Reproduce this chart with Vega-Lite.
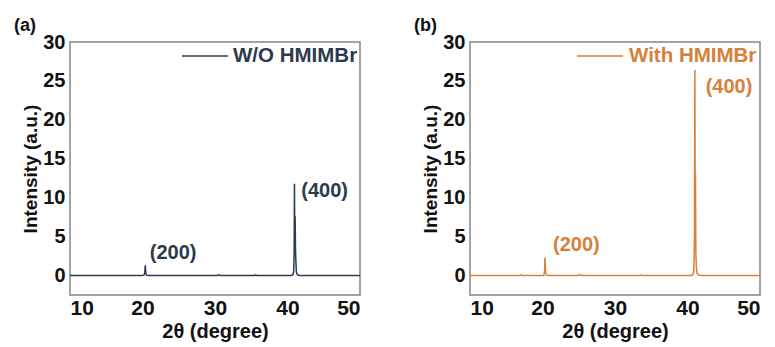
{
  "$schema": "https://vega.github.io/schema/vega-lite/v6.json",
  "padding": {"left": 13, "top": 16, "right": 5, "bottom": 5},
  "bounds": "flush",
  "spacing": 110,
  "background": "white",
  "config": {
    "font": "Liberation Sans",
    "view": {"stroke": "#858585", "strokeWidth": 1.5},
    "axis": {
      "grid": false, "domain": false, "ticks": false, "tickSize": 0,
      "labelFont": "Liberation Sans", "labelFontWeight": "bold", "labelColor": "#111111",
      "titleFont": "Liberation Sans", "titleFontWeight": "bold", "titleColor": "#111111"
    },
    "axisX": {"labelFontSize": 21, "titleFontSize": 20, "labelPadding": 2, "titlePadding": 3},
    "axisY": {"labelFontSize": 20, "titleFontSize": 19, "labelPadding": 5, "titlePadding": 2},
    "title": {"font": "Liberation Sans", "fontWeight": "bold", "fontSize": 18, "color": "#111111", "anchor": "start", "frame": "group"}
  },
  "datasets": {
    "a": [
      {"x": 10, "y": 0}, {"x": 15, "y": 0}, {"x": 19.9, "y": 0}, {"x": 20.2, "y": 0.05}, {"x": 20.3, "y": 0.3},
      {"x": 20.38, "y": 1.33}, {"x": 20.45, "y": 0.4}, {"x": 20.55, "y": 0.05}, {"x": 20.8, "y": 0}, {"x": 25, "y": 0},
      {"x": 30.3, "y": 0}, {"x": 30.5, "y": 0.08}, {"x": 30.7, "y": 0}, {"x": 35.4, "y": 0}, {"x": 35.6, "y": 0.06},
      {"x": 35.8, "y": 0}, {"x": 40.5, "y": 0}, {"x": 40.75, "y": 0.1}, {"x": 40.85, "y": 0.5}, {"x": 40.92, "y": 3},
      {"x": 40.96, "y": 11.8}, {"x": 41.0, "y": 5}, {"x": 41.05, "y": 7.6}, {"x": 41.1, "y": 3.5}, {"x": 41.15, "y": 2.0},
      {"x": 41.22, "y": 0.5}, {"x": 41.35, "y": 0.1}, {"x": 41.6, "y": 0}, {"x": 45, "y": 0}, {"x": 50, "y": 0}
    ],
    "b": [
      {"x": 10, "y": 0}, {"x": 16.8, "y": 0}, {"x": 17, "y": 0.08}, {"x": 17.2, "y": 0}, {"x": 20, "y": 0},
      {"x": 20.2, "y": 0.05}, {"x": 20.28, "y": 0.5}, {"x": 20.34, "y": 2.3}, {"x": 20.42, "y": 0.5}, {"x": 20.55, "y": 0.05},
      {"x": 20.8, "y": 0}, {"x": 24.9, "y": 0}, {"x": 25.1, "y": 0.15}, {"x": 25.3, "y": 0}, {"x": 33.3, "y": 0},
      {"x": 33.5, "y": 0.05}, {"x": 33.7, "y": 0}, {"x": 40.5, "y": 0}, {"x": 40.75, "y": 0.1}, {"x": 40.88, "y": 0.6},
      {"x": 40.96, "y": 5}, {"x": 41.02, "y": 26.4}, {"x": 41.06, "y": 8}, {"x": 41.1, "y": 13}, {"x": 41.15, "y": 3},
      {"x": 41.22, "y": 1}, {"x": 41.35, "y": 0.2}, {"x": 41.6, "y": 0.05}, {"x": 42, "y": 0}, {"x": 50, "y": 0}
    ],
    "la": [
      {"x": 21.0, "y": 2.9, "t": "(200)"},
      {"x": 41.9, "y": 10.8, "t": "(400)"}
    ],
    "lb": [
      {"x": 21.45, "y": 3.9, "t": "(200)"},
      {"x": 42.5, "y": 24.2, "t": "(400)"}
    ]
  },
  "resolve": {"scale": {"color": "independent", "x": "independent", "y": "independent"}, "legend": {"color": "independent"}},
  "hconcat": [
    {
      "width": 290, "height": 253,
      "title": {"text": "(a)", "dx": -56, "dy": 7},
      "layer": [
        {
          "data": {"name": "a"},
          "transform": [{"calculate": "'W/O HMIMBr'", "as": "series"}],
          "mark": {"type": "line", "strokeWidth": 1.5, "clip": true},
          "encoding": {
            "x": {"field": "x", "type": "quantitative", "scale": {"domain": [10, 50], "nice": false}, "axis": {"values": [10, 20, 30, 40, 50], "title": "2θ (degree)"}},
            "y": {"field": "y", "type": "quantitative", "scale": {"domain": [-2.5, 30], "nice": false, "zero": false}, "axis": {"values": [0, 5, 10, 15, 20, 25, 30], "title": "Intensity (a.u.)"}},
            "color": {"field": "series", "type": "nominal", "scale": {"domain": ["W/O HMIMBr"], "range": ["#2c3b4e"]},
              "legend": {"title": null, "orient": "none", "legendX": 111, "legendY": -10, "padding": 0, "symbolType": "stroke", "symbolSize": 2116, "symbolStrokeWidth": 1.5, "labelFontSize": 20.5, "labelFont": "Liberation Sans", "labelFontWeight": "bold", "labelColor": "#2c3b4e", "labelOffset": 4}}
          }
        },
        {
          "data": {"name": "la"},
          "mark": {"type": "text", "align": "left", "baseline": "middle", "fontSize": 20, "fontWeight": "bold", "font": "Liberation Sans", "color": "#2c3b4e"},
          "encoding": {
            "x": {"field": "x", "type": "quantitative"},
            "y": {"field": "y", "type": "quantitative"},
            "text": {"field": "t"}
          }
        }
      ]
    },
    {
      "width": 290, "height": 253,
      "title": {"text": "(b)", "dx": -56, "dy": 7},
      "layer": [
        {
          "data": {"name": "b"},
          "transform": [{"calculate": "'With HMIMBr'", "as": "series"}],
          "mark": {"type": "line", "strokeWidth": 1.5, "clip": true},
          "encoding": {
            "x": {"field": "x", "type": "quantitative", "scale": {"domain": [10, 50], "nice": false}, "axis": {"values": [10, 20, 30, 40, 50], "title": "2θ (degree)"}},
            "y": {"field": "y", "type": "quantitative", "scale": {"domain": [-2.5, 30], "nice": false, "zero": false}, "axis": {"values": [0, 5, 10, 15, 20, 25, 30], "title": "Intensity (a.u.)"}},
            "color": {"field": "series", "type": "nominal", "scale": {"domain": ["With HMIMBr"], "range": ["#d5813c"]},
              "legend": {"title": null, "orient": "none", "legendX": 106, "legendY": -10, "padding": 0, "symbolType": "stroke", "symbolSize": 2116, "symbolStrokeWidth": 1.5, "labelFontSize": 20.5, "labelFont": "Liberation Sans", "labelFontWeight": "bold", "labelColor": "#d5813c", "labelOffset": 5}}
          }
        },
        {
          "data": {"name": "lb"},
          "mark": {"type": "text", "align": "left", "baseline": "middle", "fontSize": 20, "fontWeight": "bold", "font": "Liberation Sans", "color": "#d5813c"},
          "encoding": {
            "x": {"field": "x", "type": "quantitative"},
            "y": {"field": "y", "type": "quantitative"},
            "text": {"field": "t"}
          }
        }
      ]
    }
  ]
}
